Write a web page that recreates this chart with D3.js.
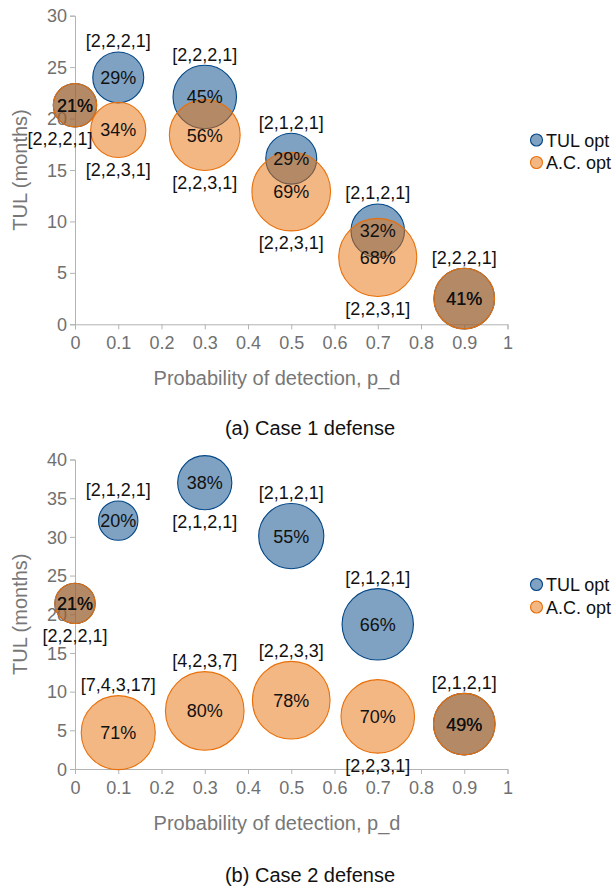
<!DOCTYPE html>
<html>
<head>
<meta charset="utf-8">
<script src="https://d3js.org/d3.v7.min.js"></script>
<style>
body { margin: 0; background: #fff; }
text { font-family: "Liberation Sans", Arial, sans-serif; }
</style>
</head>
<body>
<script>
// probability of detection (x)
var pd = [0, 0.1, 0.3, 0.5, 0.7, 0.9];
var xTicks = [0, 0.1, 0.2, 0.3, 0.4, 0.5, 0.6, 0.7, 0.8, 0.9, 1];

// (a) case 1
var tul1Y = [21.3, 24.0, 22.1, 16.1, 9.1, 2.5];
var tul1Pct = [21, 29, 45, 29, 32, 41];
var tul1Cfg = [null, "[2,2,2,1]", "[2,2,2,1]", "[2,1,2,1]", "[2,1,2,1]", "[2,2,2,1]"];
var ac1Y = [21.3, 18.9, 18.4, 12.9, 6.5, 2.5];
var ac1Pct = [21, 34, 56, 69, 68, 41];
var ac1Cfg = ["[2,2,2,1]", "[2,2,3,1]", "[2,2,3,1]", "[2,2,3,1]", "[2,2,3,1]", null];
var y1Ticks = [0, 5, 10, 15, 20, 25, 30];

// (b) case 2
var tul2Y = [21.4, 32.1, 37.0, 30.1, 18.7, 5.8];
var tul2Pct = [21, 20, 38, 55, 66, 49];
var tul2Cfg = [null, "[2,1,2,1]", "[2,1,2,1]", "[2,1,2,1]", "[2,1,2,1]", "[2,1,2,1]"];
var ac2Y = [21.4, 4.7, 7.5, 8.9, 6.8, 5.8];
var ac2Pct = [21, 71, 80, 78, 70, 49];
var ac2Cfg = ["[2,2,2,1]", "[7,4,3,17]", "[4,2,3,7]", "[2,2,3,3]", "[2,2,3,1]", null];
var y2Ticks = [0, 5, 10, 15, 20, 25, 30, 35, 40];

var seriesNames = ["TUL opt", "A.C. opt"];

// label placement (a = above, b = below, bl = below, nudged left)
var place1 = [["a","a","a","a","a","a"], ["bl","b","b","b","b","b"]];
var place2 = [["a","a","b","a","a","a"], ["b","a","a","a","b","b"]];

var colors = [
  {fill: "rgba(0,69,134,0.5)", stroke: "#004586"},
  {fill: "rgba(232,112,10,0.5)", stroke: "#e8700a"}
];
var tickColor = "#707070", axisColor = "#b3b3b3";

var svg = d3.select("body").append("svg")
  .attr("width", 616).attr("height", 886);

function panel(opt) {
  var x = d3.scaleLinear().domain([0, 1]).range([75, 507.5]);
  var y = d3.scaleLinear().domain([0, opt.yMax]).range([opt.y0, opt.yTop]);
  var allPct = opt.series[0].pct.concat(opt.series[1].pct);
  var r = d3.scaleSqrt().domain([0, d3.max(allPct)]).range([0, 39.3]);

  var g = svg.append("g");

  var xa = g.append("g").attr("transform", "translate(0," + opt.y0 + ")")
    .call(d3.axisBottom(x).tickValues(xTicks).tickSize(5).tickFormat(d3.format("~g")));
  var ya = g.append("g").attr("transform", "translate(75,0)")
    .call(d3.axisLeft(y).tickValues(opt.yTicks).tickSize(5));
  [xa, ya].forEach(function(a) {
    a.select(".domain").attr("stroke", axisColor);
    a.selectAll(".tick line").attr("stroke", axisColor);
    a.selectAll(".tick text").attr("fill", tickColor)
      .style("font-size", "18px").style("font-family", "Liberation Sans, Arial, sans-serif");
  });
  xa.selectAll(".tick text").attr("dy", "0").attr("y", 25);
  ya.selectAll(".tick text").attr("x", -8).attr("dy", "0.34em");

  // bubbles
  opt.series.forEach(function(s, si) {
    var pts = pd.map(function(p, i) { return {x: p, y: s.y[i], pct: s.pct[i]}; });
    g.append("g").selectAll("circle").data(pts).enter().append("circle")
      .attr("cx", function(d) { return x(d.x); })
      .attr("cy", function(d) { return y(d.y); })
      .attr("r", function(d) { return r(d.pct); })
      .attr("fill", colors[si].fill)
      .attr("stroke", colors[si].stroke)
      .attr("stroke-width", 1.1);
  });

  // labels
  opt.series.forEach(function(s, si) {
    pd.forEach(function(p, i) {
      var cx = x(p), cy = y(s.y[i]), rr = r(s.pct[i]);
      g.append("text").attr("x", cx).attr("y", cy + 6.5)
        .attr("text-anchor", "middle").style("font-size", "18px").attr("fill", "#111")
        .text(s.pct[i] + "%");
      if (s.cfg[i]) {
        var pl = opt.place[si][i];
        var ly = pl === "a" ? cy - rr - 11 : cy + rr + 12;
        var lx = pl === "bl" ? cx - 15 : cx;
        g.append("text").attr("x", lx).attr("y", ly + 6.5)
          .attr("text-anchor", "middle").style("font-size", "18px").attr("fill", "#111")
          .text(s.cfg[i]);
      }
    });
  });

  // axis titles
  g.append("text").attr("x", 277).attr("y", opt.y0 + 61)
    .attr("text-anchor", "middle").style("font-size", "20px").attr("fill", "#777")
    .text("Probability of detection, p_d");
  g.append("text")
    .attr("transform", "translate(27," + ((opt.y0 + opt.yTop) / 2) + ") rotate(-90)")
    .attr("text-anchor", "middle").style("font-size", "20px").attr("fill", "#777")
    .text("TUL (months)");

  // legend
  seriesNames.forEach(function(n, si) {
    var ly = opt.legendY + si * 22.5;
    g.append("circle").attr("cx", 536.5).attr("cy", ly).attr("r", 6)
      .attr("fill", colors[si].fill).attr("stroke", colors[si].stroke).attr("stroke-width", 1.1);
    g.append("text").attr("x", 546).attr("y", ly + 6.5)
      .style("font-size", "18px").attr("fill", "#111").text(n);
  });

  // caption
  g.append("text").attr("x", 310).attr("y", opt.captionY)
    .attr("text-anchor", "middle").style("font-size", "20px").attr("fill", "#111")
    .text(opt.caption);
}

panel({
  y0: 324.3, yTop: 15.7, yMax: 30, yTicks: y1Ticks,
  series: [{y: tul1Y, pct: tul1Pct, cfg: tul1Cfg}, {y: ac1Y, pct: ac1Pct, cfg: ac1Cfg}],
  place: place1, legendY: 140, captionY: 435, caption: "(a) Case 1 defense"
});
panel({
  y0: 769, yTop: 459.5, yMax: 40, yTicks: y2Ticks,
  series: [{y: tul2Y, pct: tul2Pct, cfg: tul2Cfg}, {y: ac2Y, pct: ac2Pct, cfg: ac2Cfg}],
  place: place2, legendY: 584.5, captionY: 882, caption: "(b) Case 2 defense"
});
</script>
</body>
</html>
